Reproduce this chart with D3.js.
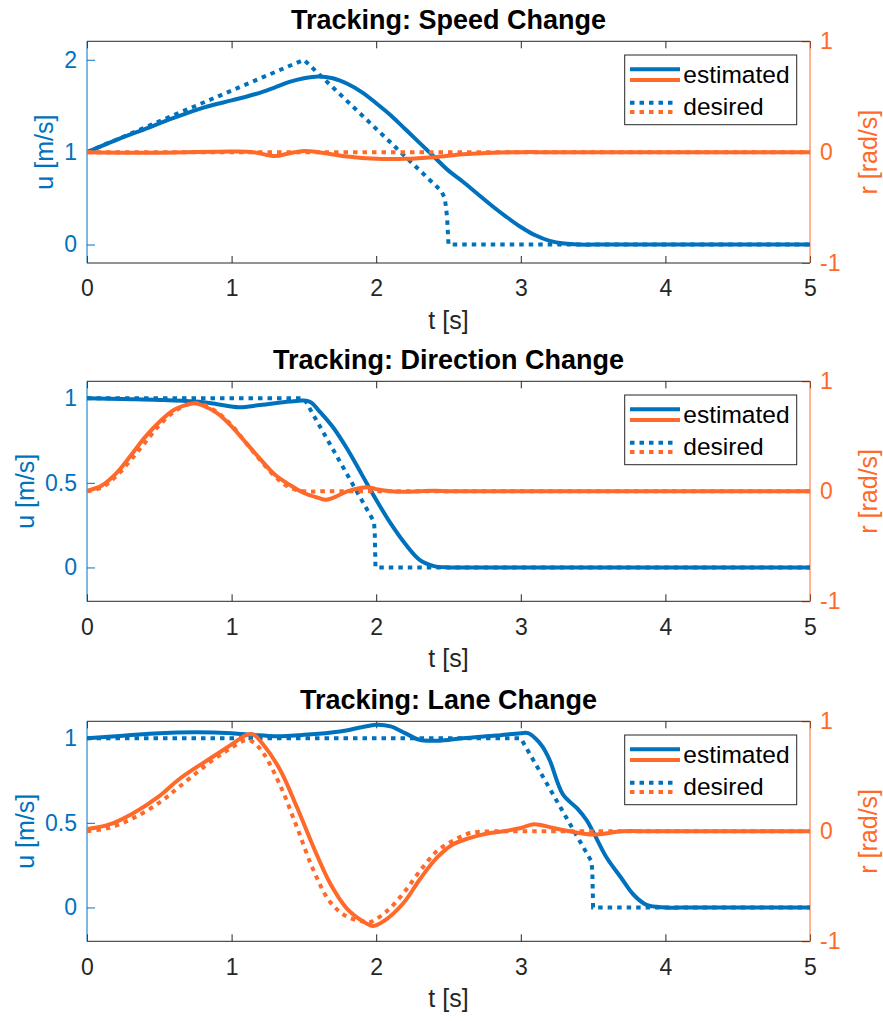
<!DOCTYPE html>
<meta charset="utf-8">
<head>
    <title>Tracking</title>
    <script src="https://d3js.org/d3.v7.min.js"></script>
</head>

<style>
body { margin: 0; background: #fff; }
text { font-family: "Liberation Sans", Arial, Helvetica, sans-serif; }
</style>

<body>
<svg></svg>
<script>

// ---- data ----
let titles = ["Tracking: Speed Change", "Tracking: Direction Change", "Tracking: Lane Change"];
let tTicks = [0, 1, 2, 3, 4, 5];
let rTicks = [-1, 0, 1];
let uTicksSpeed = [0, 1, 2];
let uTicksDir = [0, 0.5, 1];
let uTicksLane = [0, 0.5, 1];

// speed change: u
let speedEstT = [0, 0.2, 0.4, 0.6, 0.8, 1.0, 1.1, 1.2, 1.3, 1.4, 1.5, 1.6, 1.7, 1.8, 1.9, 2.0, 2.1, 2.2, 2.3, 2.4, 2.5, 2.6, 2.7, 2.8, 2.9, 3.0, 3.1, 3.2, 3.3, 3.4, 3.6, 5];
let speedEstU = [1.00, 1.13, 1.25, 1.37, 1.48, 1.56, 1.60, 1.645, 1.70, 1.76, 1.80, 1.82, 1.80, 1.74, 1.65, 1.53, 1.40, 1.25, 1.10, 0.95, 0.80, 0.68, 0.55, 0.42, 0.30, 0.19, 0.10, 0.04, 0.01, 0, 0, 0];
let speedDesT = [0, 1.5, 2.45, 2.475, 2.49, 2.5, 5];
let speedDesU = [1, 2, 0.58, 0.5, 0.3, 0, 0];
// speed change: r
let speedEstRT = [0, 0.5, 1.0, 1.15, 1.3, 1.4, 1.5, 1.6, 1.8, 2.0, 2.2, 2.4, 2.6, 2.8, 3.0, 3.2, 5];
let speedEstR = [0, -0.005, 0.005, 0, -0.035, -0.01, 0.01, 0, -0.04, -0.06, -0.06, -0.045, -0.02, -0.005, 0, 0, 0];
let speedDesRT = [0, 5];
let speedDesR = [0, 0];

// direction change: u
let dirEstT = [0, 0.25, 0.5, 0.75, 0.9, 1.05, 1.2, 1.4, 1.5, 1.55, 1.6, 1.7, 1.8, 1.9, 2.0, 2.1, 2.2, 2.3, 2.4, 2.5, 2.7, 5];
let dirEstU = [1.0, 0.995, 0.99, 0.98, 0.965, 0.947, 0.96, 0.98, 0.986, 0.975, 0.93, 0.83, 0.70, 0.55, 0.40, 0.26, 0.14, 0.045, 0.008, 0, 0, 0];
let dirDesT = [0, 1.5, 1.985, 1.99, 1.995, 5];
let dirDesU = [1, 1, 0.27, 0.2, 0, 0];
// direction change: r
let dirEstRT = [0, 0.1, 0.2, 0.3, 0.4, 0.5, 0.6, 0.7, 0.75, 0.8, 0.9, 1.0, 1.1, 1.2, 1.3, 1.4, 1.5, 1.6, 1.65, 1.7, 1.8, 1.9, 1.95, 2.0, 2.1, 2.2, 2.3, 2.4, 2.5, 2.7, 5];
let dirEstR = [0.005, 0.05, 0.16, 0.32, 0.49, 0.63, 0.74, 0.79, 0.80, 0.78, 0.71, 0.59, 0.44, 0.29, 0.15, 0.06, -0.015, -0.06, -0.077, -0.06, 0.0, 0.032, 0.035, 0.02, 0.0, -0.005, 0, 0.005, 0, 0, 0];
let dirDesRT = [0, 0.1, 0.2, 0.3, 0.4, 0.5, 0.6, 0.7, 0.75, 0.8, 0.9, 1.0, 1.1, 1.2, 1.3, 1.4, 1.5, 1.65, 5];
let dirDesR = [0, 0.035, 0.135, 0.28, 0.44, 0.60, 0.72, 0.79, 0.80, 0.79, 0.72, 0.60, 0.44, 0.28, 0.135, 0.035, 0, 0, 0];

// lane change: u
let laneEstT = [0, 0.25, 0.5, 0.75, 1.0, 1.15, 1.3, 1.5, 1.75, 1.9, 2.0, 2.1, 2.2, 2.3, 2.4, 2.5, 2.6, 2.83, 3.0, 3.05, 3.1, 3.15, 3.2, 3.29, 3.39, 3.455, 3.5, 3.59, 3.69, 3.78, 3.87, 4.0, 4.2, 5];
let laneEstU = [1.0, 1.015, 1.03, 1.035, 1.03, 1.02, 1.012, 1.02, 1.04, 1.065, 1.08, 1.07, 1.03, 0.99, 0.985, 0.99, 1.0, 1.016, 1.03, 1.03, 1.0, 0.95, 0.87, 0.67, 0.585, 0.516, 0.447, 0.30, 0.18, 0.075, 0.015, 0, 0, 0];
let laneDesT = [0, 3.0, 3.49, 3.495, 3.5, 5];
let laneDesU = [1, 1, 0.27, 0.2, 0, 0];
// lane change: r
let laneEstRT = [0, 0.15, 0.32, 0.5, 0.643, 0.873, 1.0, 1.104, 1.15, 1.22, 1.335, 1.45, 1.565, 1.68, 1.796, 1.91, 1.98, 2.07, 2.19, 2.30, 2.42, 2.53, 2.65, 2.76, 2.88, 3.0, 3.09, 3.225, 3.34, 3.5, 3.7, 3.9, 5];
let laneEstR = [0.02, 0.06, 0.165, 0.32, 0.48, 0.68, 0.79, 0.877, 0.88, 0.786, 0.56, 0.225, -0.14, -0.47, -0.70, -0.82, -0.86, -0.80, -0.65, -0.44, -0.24, -0.12, -0.06, -0.023, 0, 0.03, 0.065, 0.03, 0, -0.03, 0, 0, 0];
let laneDesRT = [0, 0.15, 0.32, 0.5, 0.643, 0.873, 1.0, 1.1, 1.15, 1.22, 1.335, 1.45, 1.565, 1.68, 1.796, 1.91, 1.95, 2.07, 2.19, 2.30, 2.42, 2.53, 2.65, 2.8, 3.0, 5];
let laneDesR = [0, 0.03, 0.12, 0.26, 0.41, 0.65, 0.76, 0.83, 0.81, 0.71, 0.42, 0.044, -0.35, -0.64, -0.775, -0.82, -0.83, -0.73, -0.56, -0.365, -0.18, -0.086, -0.016, 0, 0, 0];

let blue = "#0072BD";
let orange = "#FF6929";
let axisGray = "#262626";

// ---- layout ----
let width = 883, height = 1021;
let xLeft = 87, xRight = 810;

function zip(ts, vs) { return ts.map((t, i) => [t, vs[i]]); }

let panels = [
  {title: titles[0], top: 41.3, h: 221.7, uDomain: [-0.2, 2.2], uTicks: uTicksSpeed, ylabX: 53,
   uEst: zip(speedEstT, speedEstU), uDes: zip(speedDesT, speedDesU),
   rEst: zip(speedEstRT, speedEstR), rDes: zip(speedDesRT, speedDesR)},
  {title: titles[1], top: 381.3, h: 220, uDomain: [-0.2, 1.1], uTicks: uTicksDir, ylabX: 34,
   uEst: zip(dirEstT, dirEstU), uDes: zip(dirDesT, dirDesU),
   rEst: zip(dirEstRT, dirEstR), rDes: zip(dirDesRT, dirDesR)},
  {title: titles[2], top: 721.3, h: 220, uDomain: [-0.2, 1.1], uTicks: uTicksLane, ylabX: 34,
   uEst: zip(laneEstT, laneEstU), uDes: zip(laneDesT, laneDesU),
   rEst: zip(laneEstRT, laneEstR), rDes: zip(laneDesRT, laneDesR)}
];

let svg = d3.select("svg")
    .attr("width", width)
    .attr("height", height)
    .style("background", "#fff");

panels.forEach((p, i) => drawPanel(p, i));

function styleAxis(g, color, size) {
  g.select(".domain").remove();
  g.selectAll(".tick line").attr("stroke", color).attr("stroke-width", 1);
  g.selectAll(".tick text")
    .attr("fill", color)
    .style("font-size", size + "px")
    .style("font-family", '"Liberation Sans", Arial, sans-serif');
}

function drawPanel(p, i) {
  let bottom = p.top + p.h;
  let x = d3.scaleLinear().domain([0, 5]).range([xLeft, xRight]);
  let yL = d3.scaleLinear().domain(p.uDomain).range([bottom, p.top]);
  let yR = d3.scaleLinear().domain([-1, 1]).range([bottom, p.top]);

  let g = svg.append("g");

  g.append("clipPath").attr("id", "clip" + i)
    .append("rect").attr("x", xLeft).attr("y", p.top)
    .attr("width", xRight - xLeft).attr("height", p.h);

  // x axis (bottom and top)
  g.append("g")
    .attr("transform", "translate(0," + bottom + ")")
    .call(d3.axisBottom(x).tickValues(tTicks).tickSize(-7).tickPadding(17).tickFormat(d => String(d)))
    .call(a => styleAxis(a, axisGray, 23));
  g.append("g")
    .attr("transform", "translate(0," + p.top + ")")
    .call(d3.axisTop(x).tickValues(tTicks).tickSize(-7).tickFormat(""))
    .call(a => styleAxis(a, axisGray, 23));

  // left y axis
  g.append("g")
    .attr("transform", "translate(" + xLeft + ",0)")
    .call(d3.axisLeft(yL).tickValues(p.uTicks).tickSize(-8).tickPadding(10).tickFormat(d => String(d)))
    .call(a => styleAxis(a, blue, 23));

  // right y axis
  g.append("g")
    .attr("transform", "translate(" + xRight + ",0)")
    .call(d3.axisRight(yR).tickValues(rTicks).tickSize(-8).tickPadding(10).tickFormat(d => String(d)))
    .call(a => styleAxis(a, orange, 23));

  // box lines
  g.append("line").attr("x1", xLeft).attr("x2", xRight).attr("y1", p.top).attr("y2", p.top)
    .attr("stroke", axisGray).attr("stroke-width", 1);
  g.append("line").attr("x1", xLeft).attr("x2", xRight).attr("y1", bottom).attr("y2", bottom)
    .attr("stroke", axisGray).attr("stroke-width", 1);
  g.append("line").attr("x1", xLeft).attr("x2", xLeft).attr("y1", p.top).attr("y2", bottom)
    .attr("stroke", blue).attr("stroke-width", 1);
  g.append("line").attr("x1", xRight).attr("x2", xRight).attr("y1", p.top).attr("y2", bottom)
    .attr("stroke", orange).attr("stroke-width", 1);

  // lines
  let smoothL = d3.line().x(d => x(d[0])).y(d => yL(d[1])).curve(d3.curveCatmullRom.alpha(0.5));
  let linearL = d3.line().x(d => x(d[0])).y(d => yL(d[1]));
  let smoothR = d3.line().x(d => x(d[0])).y(d => yR(d[1])).curve(d3.curveCatmullRom.alpha(0.5));

  let lines = g.append("g").attr("clip-path", "url(#clip" + i + ")");
  lines.append("path").attr("d", smoothL(p.uEst))
    .attr("fill", "none").attr("stroke", blue).attr("stroke-width", 4);
  lines.append("path").attr("d", linearL(p.uDes))
    .attr("fill", "none").attr("stroke", blue).attr("stroke-width", 4)
    .attr("stroke-dasharray", "4.5,5");
  lines.append("path").attr("d", smoothR(p.rEst))
    .attr("fill", "none").attr("stroke", orange).attr("stroke-width", 4);
  lines.append("path").attr("d", smoothR(p.rDes))
    .attr("fill", "none").attr("stroke", orange).attr("stroke-width", 4)
    .attr("stroke-dasharray", "4.5,5");

  // title
  g.append("text")
    .attr("x", (xLeft + xRight) / 2)
    .attr("y", p.top - 12)
    .attr("text-anchor", "middle")
    .style("font-size", "27px")
    .style("font-weight", "bold")
    .attr("fill", "#000")
    .text(p.title);

  // axis labels
  g.append("text")
    .attr("x", (xLeft + xRight) / 2)
    .attr("y", bottom + 66)
    .attr("text-anchor", "middle")
    .style("font-size", "25px")
    .attr("fill", axisGray)
    .text("t [s]");
  g.append("text")
    .attr("transform", "translate(" + p.ylabX + "," + (p.top + p.h / 2) + ") rotate(-90)")
    .attr("text-anchor", "middle")
    .style("font-size", "25px")
    .attr("fill", blue)
    .text("u [m/s]");
  g.append("text")
    .attr("transform", "translate(877," + (p.top + p.h / 2) + ") rotate(-90)")
    .attr("text-anchor", "middle")
    .style("font-size", "25px")
    .attr("fill", orange)
    .text("r [rad/s]");

  // legend
  let lg = g.append("g").attr("transform", "translate(624.7," + (p.top + 13.7) + ")");
  lg.append("rect").attr("width", 172).attr("height", 69.7)
    .attr("fill", "#fff").attr("stroke", axisGray).attr("stroke-width", 1);
  let items = [
    {y: 14.3, c: blue, dash: null, x2: 55.3}, {y: 25, c: orange, dash: null, x2: 55.3},
    {y: 47.7, c: blue, dash: "4.5,5", x2: 52}, {y: 57, c: orange, dash: "4.5,5", x2: 52}
  ];
  items.forEach(it => {
    lg.append("line").attr("x1", 5.3).attr("x2", it.x2).attr("y1", it.y).attr("y2", it.y)
      .attr("stroke", it.c).attr("stroke-width", 4)
      .attr("stroke-dasharray", it.dash);
  });
  lg.append("text").attr("x", 58.6).attr("y", 28.3)
    .style("font-size", "24.5px").attr("fill", "#000").text("estimated");
  lg.append("text").attr("x", 58.6).attr("y", 60)
    .style("font-size", "24.5px").attr("fill", "#000").text("desired");
}

</script>
</body>
